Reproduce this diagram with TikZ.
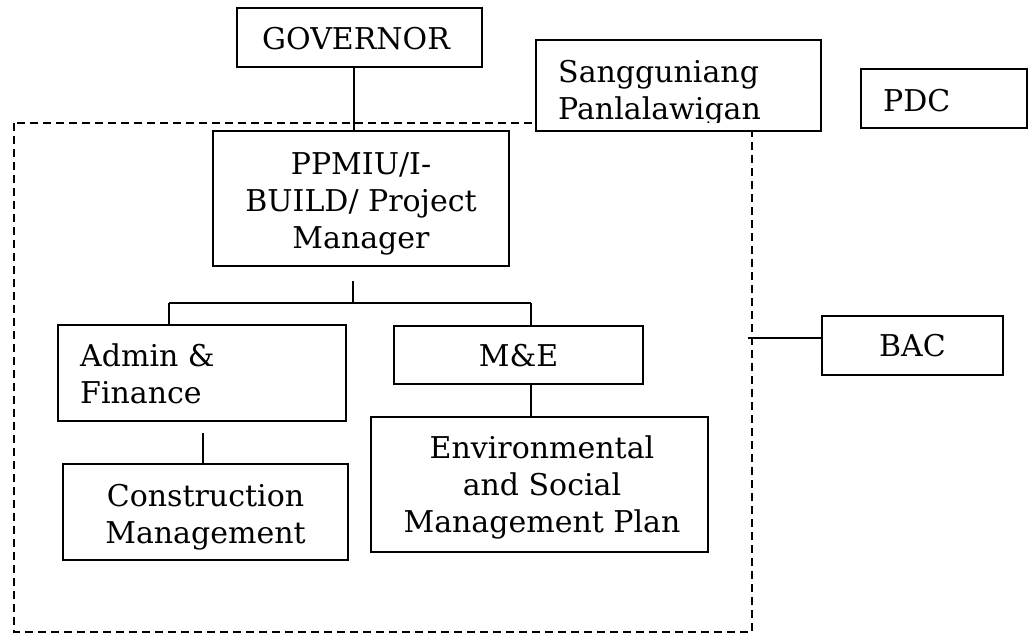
\documentclass[tikz,border=0pt]{standalone}
\usepackage{fontspec}
\setmainfont{DejaVu Serif}
\begin{document}
\begin{tikzpicture}[x=1pt,y=-1pt,
  box/.style={draw=black,line width=1.7pt,fill=white,inner sep=0pt,rectangle},
  txt/.style={inner sep=0pt,font=\fontsize{30}{37}\selectfont},
  conn/.style={draw=black,line width=1.7pt},
  frame/.style={draw=black,line width=2.6pt,dash pattern=on 8pt off 5pt}]
\useasboundingbox (0,0) rectangle (1034,633);
% dashed boundary
\draw[frame] (14,123) rectangle (752,632);
% boxes
\node[box,minimum width=245pt,minimum height=59pt] (gov) at (359.5,37.5) {};
\node[box,minimum width=285pt,minimum height=91pt] (sang) at (678.5,85.5) {};
\node[box,minimum width=166pt,minimum height=59pt] (pdc) at (944,98.5) {};
\node[box,minimum width=296pt,minimum height=135pt] (ppmiu) at (361,198.5) {};
\node[box,minimum width=288pt,minimum height=96pt] (admin) at (202,373) {};
\node[box,minimum width=249pt,minimum height=58pt] (me) at (518.5,355) {};
\node[box,minimum width=285pt,minimum height=96pt] (cons) at (205.5,512) {};
\node[box,minimum width=337pt,minimum height=135pt] (env) at (539.5,484.5) {};
\node[box,minimum width=181pt,minimum height=59pt] (bac) at (912.5,345.5) {};
% texts (multi-line nodes: base = last line)
\node[txt,anchor=base west] (govt) at (262,49) {GOVERNOR};
\begin{scope}
\clip (536,40) rectangle (821,122);
\node[txt,anchor=base west,align=left] (sangt) at (558,119) {Sangguniang\\Panlalawigan};
\end{scope}
\node[txt,anchor=base west] (pdct) at (883,111) {PDC};
\node[txt,anchor=base,align=center] (ppmiut) at (361,248) {PPMIU/I-\\BUILD/ Project\\Manager};
\node[txt,anchor=base west,align=left] (admint) at (80,403) {Admin \&\\Finance};
\node[txt,anchor=base] (met) at (518.5,366) {M\&E};
\node[txt,anchor=base,align=center] (const) at (205.5,543) {Construction\\Management};
\node[txt,anchor=base,align=center] (envt) at (542,532) {Environmental\\and Social\\Management Plan};
\node[txt,anchor=base] (bact) at (912.5,356) {BAC};
% connector points
\coordinate (g0) at (354,67);
\coordinate (t0) at (353,281);
\coordinate (tj) at (353,303);
\coordinate (tl) at (169,303);
\coordinate (tr) at (531,303);
\coordinate (a0) at (203,433);
\coordinate (b0) at (748,338);
% connectors
\draw[conn] (gov.south -| g0) -- (ppmiu.north -| g0);
\draw[conn] (t0) -- (tj);
\draw[conn] (tl) -- (tr);
\draw[conn] (tl) -- (tl |- admin.north);
\draw[conn] (tr) -- (tr |- me.north);
\draw[conn] (a0) -- (a0 |- cons.north);
\draw[conn] (tr |- me.south) -- (tr |- env.north);
\draw[conn] (b0) -- (b0 -| bac.west);
\end{tikzpicture}
\end{document}
